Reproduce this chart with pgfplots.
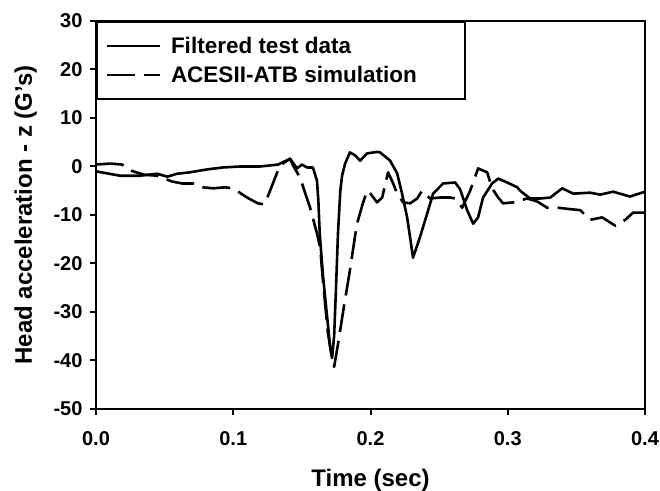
\documentclass[border=0pt]{standalone}
\usepackage{fontspec}
\setmainfont{Liberation Sans}
\usepackage{pgfplots}
\pgfplotsset{compat=1.18}
\usetikzlibrary{calc}

\begin{document}
\begin{tikzpicture}
\begin{axis}[
    scale only axis,
    width=549pt, height=388pt,
    xmin=0, xmax=0.4,
    ymin=-50, ymax=30,
    xtick={0,0.1,0.2,0.3,0.4},
    ytick={-50,-40,-30,-20,-10,0,10,20,30},
    tick pos=left,
    tick align=outside,
    major tick length=6pt,
    tick style={line width=2pt, black},
    axis line style={line width=2.6pt},
    /pgf/number format/assume math mode=true,
    xticklabel style={font=\fontsize{20}{24}\selectfont\bfseries, yshift=-13pt,
        /pgf/number format/fixed, /pgf/number format/fixed zerofill,
        /pgf/number format/precision=1},
    yticklabel style={font=\fontsize{20}{24}\selectfont\bfseries, xshift=-4pt},
    xlabel={Time (sec)},
    ylabel={Head acceleration - z (G's)},
    label style={font=\fontsize{24}{28}\selectfont\bfseries},
    xlabel style={at={(axis description cs:0.5,-0.201)}, anchor=base},
    ylabel style={at={(axis description cs:-0.1166,0.5)}, anchor=base},
    legend cell align=left,
    legend style={at={(axis description cs:0,1)}, anchor=north west,
        draw=black, line width=2pt,
        font=\fontsize{22.5}{27}\selectfont\bfseries,
        inner xsep=9pt, inner ysep=14pt, row sep=9pt,
        nodes={inner ysep=1pt},
        /tikz/every odd column/.append style={column sep=8pt}},
    legend image code/.code={\draw[#1, line width=2pt] (0pt,0pt) -- (53pt,0pt);},
]

\addplot[black, line width=2.6pt, line join=round] coordinates {
(0,-1.0)(0.0175,-1.9)(0.032,-1.9)(0.0445,-1.5)(0.052,-2.1)(0.059,-1.5)(0.0685,-1.2)
(0.081,-0.6)(0.0925,-0.2)(0.105,0)(0.1195,0)(0.1327,0.4)(0.1414,1.6)(0.1465,-0.4)
(0.150,0.4)(0.1538,-0.2)(0.158,-0.2)(0.161,-2.9)(0.162,-7)(0.163,-13.8)(0.1655,-22.9)
(0.1684,-31)(0.1706,-37.3)(0.172,-39.5)(0.1735,-35)(0.175,-24)(0.1763,-13.8)(0.178,-5)
(0.1793,-1.9)(0.1815,0.6)(0.185,2.9)(0.1888,2.3)(0.1924,1.2)(0.1975,2.7)(0.2048,3.0)
(0.207,2.9)(0.2143,1.2)(0.2194,-1.4)(0.223,-5.6)(0.2267,-10.5)(0.231,-18.8)(0.236,-14.6)
(0.2413,-9.7)(0.2456,-5.6)(0.2529,-3.5)(0.2617,-3.3)(0.2653,-4.7)(0.2704,-9)(0.2748,-11.8)
(0.2784,-10.5)(0.282,-6.4)(0.2886,-3.5)(0.293,-2.5)(0.2996,-3.3)(0.307,-4.3)(0.309,-5)
(0.3163,-6.6)(0.3236,-6.6)(0.331,-6.4)(0.3397,-4.5)(0.3477,-5.6)(0.36,-5.4)(0.3673,-5.8)
(0.3768,-5.2)(0.389,-6.2)(0.4,-5.2)
};
\addlegendentry{Filtered test data}

\addplot[black, line width=2.6pt, line join=round, dash pattern=on 28pt off 9pt] coordinates {
(0,0.4)(0.0102,0.6)(0.019,0.4)(0.0248,-0.8)(0.035,-1.7)(0.0445,-1.9)(0.0554,-3.1)
(0.0627,-3.5)(0.0707,-3.5)(0.078,-4.3)(0.0853,-4.5)(0.094,-4.3)(0.0999,-4.5)(0.110,-6.4)
(0.118,-7.6)(0.1225,-7.8)(0.1246,-6.6)(0.134,0.2)(0.1414,1.6)(0.1436,0.2)(0.1487,-2.3)
(0.1523,-5.4)(0.156,-8.5)(0.161,-13.8)(0.1633,-16.7)(0.1655,-24)(0.169,-34.4)(0.172,-39.4)
(0.1735,-41.3)(0.1764,-36.5)(0.18,-30)(0.185,-21.4)(0.19,-12)(0.194,-8)(0.1975,-5)
(0.1997,-5.5)(0.2048,-7.4)(0.2085,-6.4)(0.2128,-1.2)(0.2165,-3.5)(0.2194,-5.6)(0.2238,-7.4)
(0.2289,-7.6)(0.234,-6.6)(0.2376,-5)(0.2434,-6.6)(0.2507,-6.4)(0.258,-6.4)(0.2617,-6.6)
(0.2668,-8.5)(0.2726,-5)(0.2784,-0.4)(0.285,-1.2)(0.2886,-4.5)(0.293,-6.4)(0.2966,-7.6)
(0.304,-7.4)(0.3141,-6.6)(0.3214,-7.2)(0.3287,-8.5)(0.3367,-8.5)(0.3455,-8.8)(0.3528,-9)
(0.36,-11)(0.3688,-10.5)(0.3783,-12.2)(0.3856,-11)(0.3914,-9.5)(0.4,-9.5)
};
\addlegendentry{\makebox[283pt][l]{ACESII-ATB simulation}}

\end{axis}
\pgfresetboundingbox
\path[use as bounding box] ($(current axis.south west)+(-96pt,-82pt)$) rectangle ($(current axis.north east)+(15pt,21pt)$);
\end{tikzpicture}
\end{document}
